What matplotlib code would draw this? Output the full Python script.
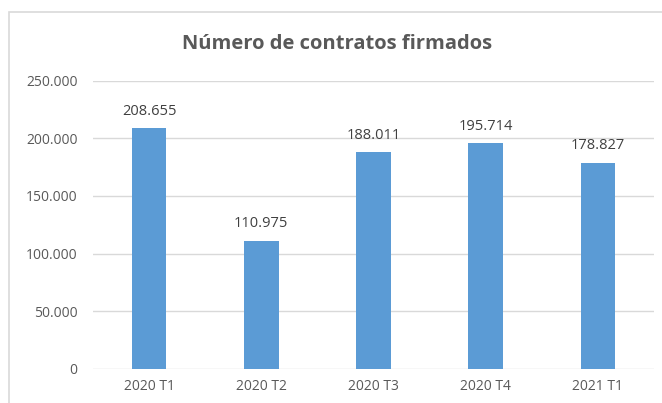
import matplotlib
matplotlib.use("Agg")
import matplotlib.pyplot as plt
from matplotlib.patches import Rectangle

categories = ["2020 T1", "2020 T2", "2020 T3", "2020 T4", "2021 T1"]
values = [208655, 110975, 188011, 195714, 178827]
yticks = [0, 50000, 100000, 150000, 200000, 250000]
title = "Número de contratos firmados"

def fmt(v):
    return f"{v:,.0f}".replace(",", ".")

plt.rcParams['font.family'] = ['Open Sans', 'DejaVu Sans']

fig = plt.figure(figsize=(6.62, 4.03), dpi=100)
L, R, T, B = 93, 654, 80.5, 369
ax = fig.add_axes([L/662, 1-B/403, (R-L)/662, (B-T)/403])

x = list(range(len(categories)))
ax.bar(x, values, width=0.31, color="#5B9BD5", zorder=3)
for xi, v in zip(x, values):
    ax.annotate(fmt(v), (xi, v), xytext=(0, 12.2), textcoords="offset points",
                ha="center", va="center", fontsize=10.5, color="#404040")

ax.set_xlim(-0.5, len(categories) - 0.5)
ax.set_ylim(0, 250000)
ax.set_yticks(yticks)
ax.set_yticklabels([fmt(t) for t in yticks], fontsize=10, color="#595959")
ax.set_xticks(x)
ax.set_xticklabels(categories, fontsize=10, color="#595959")
ax.tick_params(axis='y', length=0, pad=11)
ax.tick_params(axis='x', length=0, pad=7)
ax.grid(axis="y", color="#D9D9D9", linewidth=1, zorder=0)
for s in ax.spines.values():
    s.set_visible(False)

fig.text(337/662, 1-44/403, title, ha="center", va="center", fontsize=14.5,
         fontweight="bold", color="#595959")

fig.patches.append(Rectangle((9/662, -0.1), 1.2, 1 - 12/403 + 0.1, transform=fig.transFigure,
                             fill=False, edgecolor="#D9D9D9", linewidth=1.2))

fig.savefig("out.png", dpi=100)
